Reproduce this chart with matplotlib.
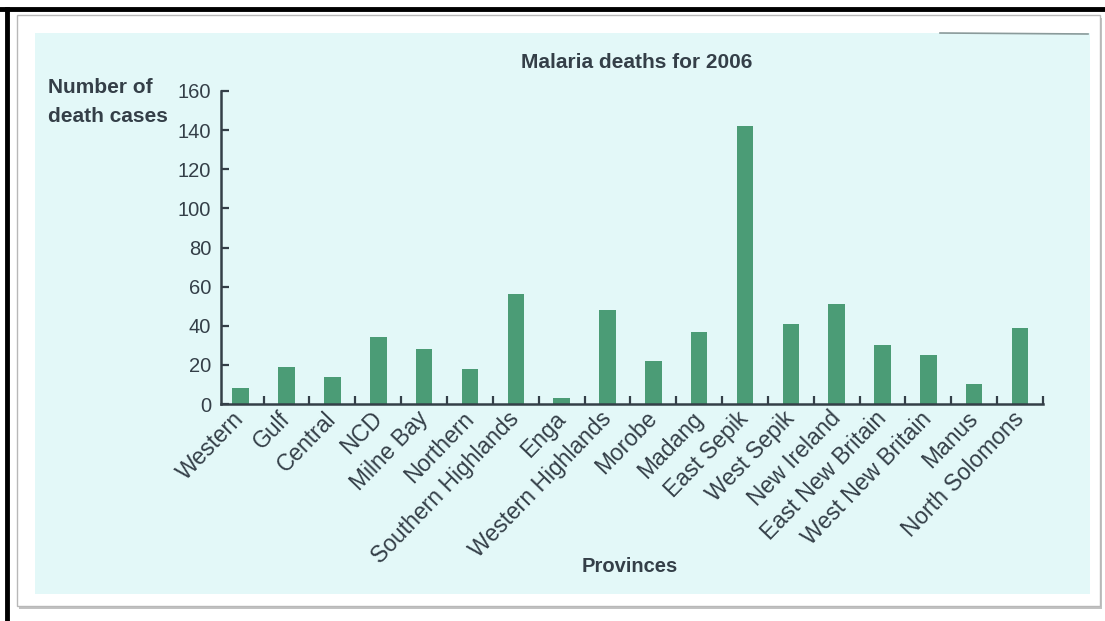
import matplotlib.pyplot as plt
from matplotlib.patches import Rectangle
from matplotlib.lines import Line2D
import numpy as np

# data
provinces = ["Western", "Gulf", "Central", "NCD", "Milne Bay", "Northern",
             "Southern Highlands", "Enga", "Western Highlands", "Morobe",
             "Madang", "East Sepik", "West Sepik", "New Ireland",
             "East New Britain", "West New Britain", "Manus", "North Solomons"]
deaths = [8, 19, 14, 34, 28, 18, 56, 3, 48, 22, 37, 142, 41, 51, 30, 25, 10, 39]
y_ticks = [0, 20, 40, 60, 80, 100, 120, 140, 160]

bg = "#e3f8f8"
bar_color = "#4b9c76"
ink = "#343f48"
plt.rcParams['font.family'] = ['Liberation Sans', 'DejaVu Sans']

W, H = 1105, 621
fig = plt.figure(figsize=(W / 100, H / 100), dpi=100)
fig.patch.set_facecolor("white")

def fx(px):
    return px / W

def fy(py):
    return 1 - py / H

# card with shadow and cyan page (kept behind the axes)
fig.add_artist(Rectangle((fx(19), fy(609)), fx(1083), (608 - 17) / H, transform=fig.transFigure,
                         facecolor="#9a9a9a", edgecolor="none", alpha=0.6, zorder=-10))
fig.add_artist(Rectangle((fx(17), fy(606)), fx(1083), (606 - 15) / H, transform=fig.transFigure,
                         facecolor="white", edgecolor="#b8b8b8", linewidth=1, zorder=-9))
fig.add_artist(Rectangle((fx(35), fy(594)), fx(1090 - 35), (594 - 33) / H, transform=fig.transFigure,
                         facecolor=bg, edgecolor="none", zorder=-8))
# page edge line at the top right of the scan
fig.add_artist(Line2D([fx(940), fx(1088)], [fy(33), fy(34)], transform=fig.transFigure,
                      color="#8a9a9a", linewidth=1.2, zorder=-7))
# thick black frame (top and left)
fig.add_artist(Line2D([0, 1], [fy(9), fy(9)], transform=fig.transFigure, color="black", linewidth=3.5))
fig.add_artist(Line2D([fx(7), fx(7)], [0, fy(9)], transform=fig.transFigure, color="black", linewidth=3.5))

ax = fig.add_axes([fx(221), fy(404), fx(1043 - 221), (404 - 91) / H])
ax.patch.set_visible(False)
ax.set_zorder(5)

x = np.arange(len(provinces))
ax.bar(x, deaths, width=0.36, color=bar_color, edgecolor="none")

ax.set_xlim(-0.43, 17.5)
ax.set_ylim(0, 160)
ax.set_yticks(y_ticks)
ax.set_yticklabels([str(v) for v in y_ticks], fontsize=14.5, color=ink)
ax.tick_params(axis="y", direction="in", length=6, width=1.6, color=ink, pad=7)

ax.set_xticks(x)
ax.set_xticklabels(provinces, rotation=46, ha="right", va="center", rotation_mode="anchor",
                   fontsize=16.5, color=ink)
ax.tick_params(axis="x", which="major", length=0, pad=8)
ax.set_xticks(np.arange(0.5, 18, 1.0), minor=True)
ax.tick_params(axis="x", which="minor", direction="in", length=6, width=1.6, color=ink)

for s in ["top", "right"]:
    ax.spines[s].set_visible(False)
for s in ["left", "bottom"]:
    ax.spines[s].set_linewidth(1.8)
    ax.spines[s].set_color(ink)

fig.text(fx(637), fy(62), "Malaria deaths for 2006", ha="center", va="center",
         fontsize=15, fontweight="bold", color=ink)
fig.text(fx(48), fy(102), "Number of\ndeath cases", ha="left", va="center",
         fontsize=15, fontweight="bold", color=ink, linespacing=1.65)
fig.text(fx(630), fy(567), "Provinces", ha="center", va="center",
         fontsize=14.5, fontweight="bold", color=ink)

fig.savefig("out.png", dpi=100)
